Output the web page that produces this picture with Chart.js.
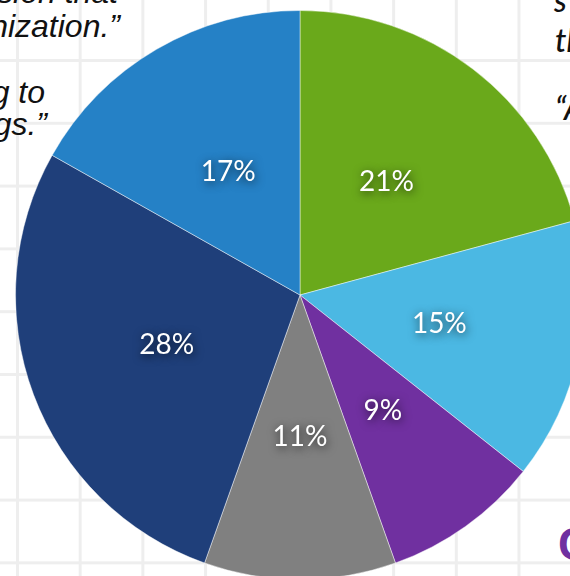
<!DOCTYPE html>
<html>
<head>
<meta charset="utf-8">
<script src="https://cdn.jsdelivr.net/npm/chart.js@4.4.1/dist/chart.umd.min.js"></script>
<style>
  html, body { margin: 0; padding: 0; }
  body {
    width: 570px; height: 576px; overflow: hidden; position: relative;
    background-color: #ffffff;
    background-image:
      linear-gradient(to right, #eeeeee 3px, transparent 3px),
      linear-gradient(to bottom, #eeeeee 3px, transparent 3px);
    background-size: 62.7px 62.8px;
    background-position: 16px 59px;
  }
  .frag { position: absolute; font-family: "Liberation Sans", Arial, sans-serif; font-style: italic; font-size: 32px; color: #111; white-space: nowrap; line-height: 32px; }
  .r { text-align: right; }
  .cal { font-family: Lato, "Open Sans", sans-serif; font-size: 32px; font-weight: 500; }
  #cMark { position: absolute; left: 558px; top: 519px; font-family: "Liberation Sans", Arial, sans-serif; font-weight: bold; font-size: 46px; color: #7030a0; line-height: 50px; }
  #wrap { position: absolute; left: 0; top: 0; width: 600px; height: 590px; }
</style>
</head>
<body>
<div class="frag r" style="right:452px; top:-24px;">sion that</div>
<div class="frag r" style="right:450px; top:10px;">nization.”</div>
<div class="frag r" style="right:525px; top:76px;">g to</div>
<div class="frag r" style="right:523px; top:108px;">gs.”</div>
<div class="frag cal" style="left:554px; top:-16px;">s</div>
<div class="frag cal" style="left:555px; top:24px;">th</div>
<div class="frag cal" style="left:555px; top:92px;">“A</div>
<div id="cMark">C</div>
<div id="wrap"><canvas id="c" width="600" height="590"></canvas></div>
<script>
const categories = ['Segment 1', 'Segment 2', 'Segment 3', 'Segment 4', 'Segment 5', 'Segment 6'];
const shares = [21, 15, 9, 11, 28, 17];
const shareLabels = ['21%', '15%', '9%', '11%', '28%', '17%'];
const sliceColors = ['#6aa91b', '#4bb8e3', '#7030a0', '#808080', '#1f3f7a', '#2581c6'];

const labelPlugin = {
  id: 'sliceLabels',
  afterDatasetsDraw(chart) {
    const ctx = chart.ctx;
    const meta = chart.getDatasetMeta(0);
    ctx.save();
    ctx.font = '28px Lato, "Open Sans", sans-serif';
    ctx.textAlign = 'center';
    ctx.textBaseline = 'middle';
    ctx.fillStyle = '#ffffff';
    ctx.shadowColor = 'rgba(0,0,0,0.75)';
    ctx.shadowBlur = 10;
    ctx.shadowOffsetX = 1;
    ctx.shadowOffsetY = 2;
    meta.data.forEach((arc, i) => {
      const p = arc.tooltipPosition();
      ctx.fillText(shareLabels[i], p.x, p.y);
    });
    ctx.restore();
  }
};

new Chart(document.getElementById('c'), {
  type: 'pie',
  data: {
    labels: categories,
    datasets: [{
      data: shares,
      backgroundColor: sliceColors,
      borderColor: 'rgba(255,255,255,0.45)',
      borderWidth: 1
    }]
  },
  options: {
    responsive: false,
    animation: false,
    layout: { padding: { left: 15, right: 15, top: 10, bottom: 10 } },
    plugins: { legend: { display: false }, tooltip: { enabled: false } }
  },
  plugins: [labelPlugin]
});
</script>
</body>
</html>
